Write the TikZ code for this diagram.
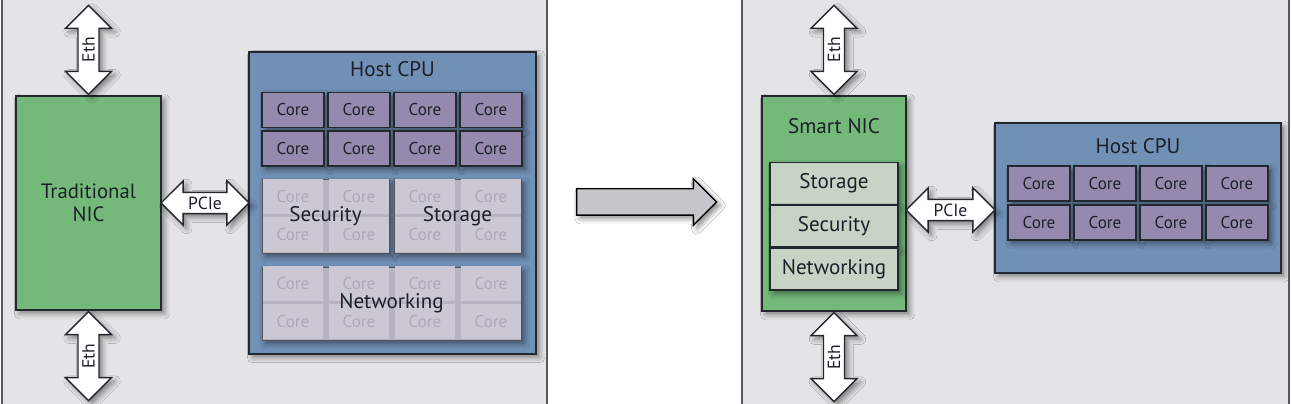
\documentclass[tikz,border=0pt]{standalone}
\usepackage{fontspec}
\setmainfont{PT Sans}
\usetikzlibrary{calc,shapes,shapes.arrows,shadows,shadows.blur,positioning}
\definecolor{panelbg}{HTML}{E4E4E6}
\definecolor{paneledge}{HTML}{58585C}
\definecolor{nicgreen}{HTML}{74B97A}
\definecolor{cpublue}{HTML}{7190B6}
\definecolor{coreviolet}{HTML}{958AAE}
\definecolor{fadecore}{HTML}{CBC7D3}
\definecolor{fadeblock}{HTML}{B7B3C1}
\definecolor{fadetext}{HTML}{ADA9B8}
\definecolor{offloadgreen}{HTML}{C7D3C4}
\definecolor{bigarrowgray}{HTML}{C6C6CA}
\definecolor{edge}{HTML}{22282E}
\definecolor{ink}{HTML}{1C2129}
\tikzstyle{panel}=[fill=panelbg,draw=paneledge,thick]
\tikzstyle{softshadow}=[blur shadow={shadow xshift=2pt,shadow yshift=-2pt,shadow blur radius=3pt,shadow opacity=45}]
\tikzstyle{nic}=[rectangle,fill=nicgreen,draw=edge,thick,minimum width=2.9cm,
minimum height=4.28cm,align=center,text=ink,font=\fontsize{11.8}{13}\selectfont,softshadow]
\tikzstyle{cpu}=[rectangle,fill=cpublue,draw=edge,thick,minimum width=5.74cm,softshadow]
\tikzstyle{boxlabel}=[text=ink,font=\fontsize{12}{13}\selectfont]
\tikzstyle{core}=[rectangle,fill=coreviolet,draw=edge,thick,minimum width=1.24cm,
minimum height=0.7cm,text=ink,font=\fontsize{9.7}{11}\selectfont,softshadow]
\tikzstyle{fadeblock}=[rectangle,fill=fadeblock,draw=edge!80,thin,softshadow]
\tikzstyle{fadecell}=[rectangle,fill=fadecore,minimum width=1.22cm,minimum height=0.7cm,
text=fadetext,font=\fontsize{9.7}{11}\selectfont]
\tikzstyle{offload}=[rectangle,fill=offloadgreen,draw=edge,thick,minimum width=2.56cm,
minimum height=0.83cm,text=ink,font=\fontsize{12}{13}\selectfont,softshadow]
\tikzstyle{dblarrow}=[shape=double arrow,fill=white,draw=edge,thick,double arrow head extend=0.23cm,
inner xsep=0pt,inner ysep=2pt,text=ink,font=\fontsize{10}{11}\selectfont,softshadow]
\tikzstyle{etharrow}=[dblarrow,rotate=90,minimum height=1.78cm,double arrow head extend=0.25cm]
\tikzstyle{bigarrow}=[shape=single arrow,fill=bigarrowgray,draw=black,thick,minimum height=2.8cm,
single arrow head extend=0.2cm,inner xsep=0pt,inner ysep=0.25cm,softshadow]
\begin{document}
\begin{tikzpicture}[x=0.02cm,y=0.02cm]
  \useasboundingbox (0,0) rectangle (1292,404);
  \clip (0,0) rectangle (1292,404);
  \fill[white] (0,0) rectangle (1292,404);
  \draw[panel] (2,-10) rectangle (547,414);
  \draw[panel] (742,-10) rectangle (1289,414);

  % before: traditional NIC, host CPU does the work
  \node[nic] (tnic) at (88.5,201) {Traditional\\NIC};
  \node[etharrow,anchor=west] (ethTL) at (tnic.north) {Eth};
  \node[etharrow,anchor=east] (ethBL) at (tnic.south) {Eth};
  \node[cpu,minimum height=6.04cm] (hcpuL) at (392.5,201) {};
  \node[boxlabel] (hcpuLlbl) at ($(hcpuL.north)+(0,-18)$) {Host CPU};
  \node[dblarrow,minimum height=1.76cm] (pcieL) at ($(tnic.east)!0.5!(hcpuL.west)$) {PCIe};
  \foreach \col [count=\i] in {293,359,425,491}
    \foreach \row [count=\j] in {294,255.5}
      \node[core] (coreL\j\i) at (\col,\row) {Core};
  \node[fadeblock,minimum width=2.54cm,minimum height=1.48cm] (secL) at (325.5,188) {};
  \node[fadeblock,minimum width=2.54cm,minimum height=1.48cm] (storL) at (457.5,188) {};
  \node[fadeblock,minimum width=5.18cm,minimum height=1.46cm] (netL) at (391.5,100.5) {};
  \foreach \col in {293,359,425,491}
    \foreach \row in {207,169,120,82}
      \node[fadecell] at (\col,\row) {Core};
  \node[boxlabel] at (secL) {Security};
  \node[boxlabel] at (storL) {Storage};
  \node[boxlabel] at (netL) {Networking};

  % the shift
  \node[bigarrow] (shift) at (640,202) {};

  % after: smart NIC takes the offload
  \node[nic,minimum width=2.88cm,minimum height=4.3cm] (snic) at (834,200.5) {};
  \node[boxlabel] (sniclbl) at ($(snic.north)+(0,-31)$) {Smart NIC};
  \node[offload] (storR) at (834,220.5) {Storage};
  \node[offload,below=0pt of storR] (secR) {Security};
  \node[offload,below=0pt of secR] (netR) {Networking};
  \node[etharrow,anchor=west] (ethTR) at (snic.north) {Eth};
  \node[etharrow,anchor=east] (ethBR) at (snic.south) {Eth};
  \node[cpu,minimum width=5.72cm,minimum height=3cm] (hcpuR) at (1138,206) {};
  \node[boxlabel] (hcpuRlbl) at ($(hcpuR.north)+(0,-24)$) {Host CPU};
  \node[dblarrow,minimum height=1.78cm] (pcieR) at (950.5,194) {PCIe};
  \foreach \col [count=\i] in {1039,1105,1171,1237}
    \foreach \row [count=\j] in {220.5,181.5}
      \node[core] (coreR\j\i) at (\col,\row) {Core};
\end{tikzpicture}
\end{document}
